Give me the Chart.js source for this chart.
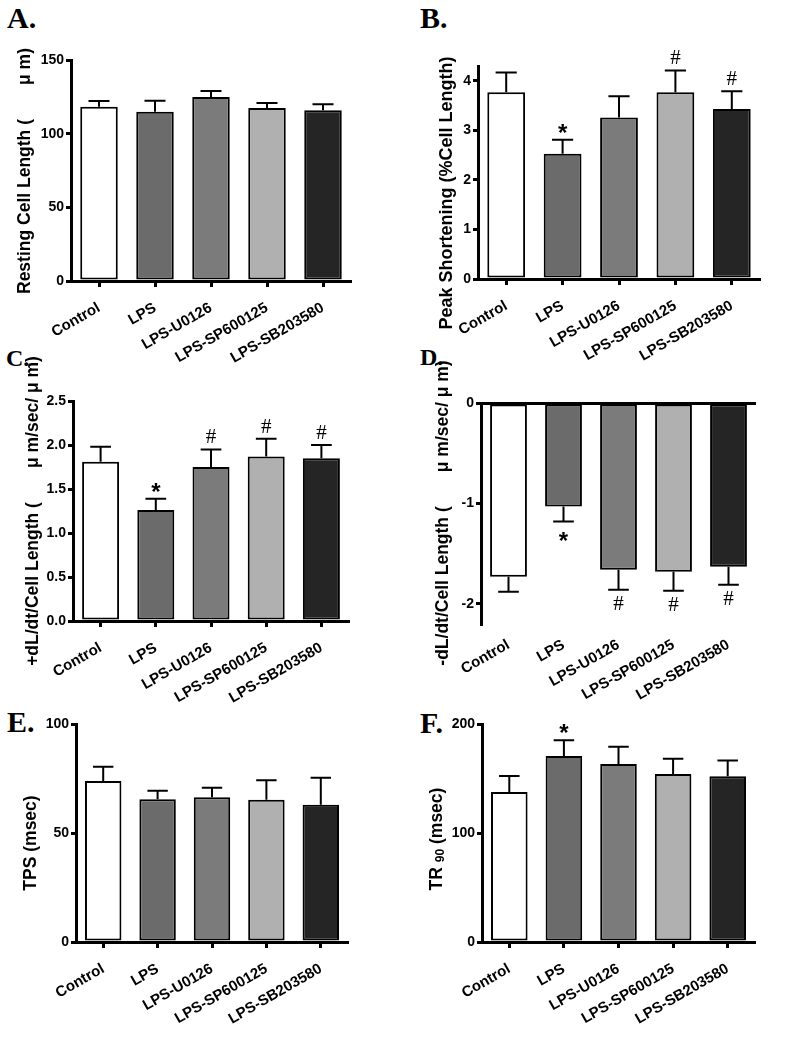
<!DOCTYPE html>
<html>
<head>
<meta charset="utf-8">
<script src="https://cdn.jsdelivr.net/npm/chart.js@4"></script>
<style>
  body { margin: 0; background: #fff; }
  #fig { position: relative; width: 786px; height: 1050px; overflow: hidden; font-family: 'Liberation Sans', Arial, sans-serif; }
  #fig canvas { position: absolute; }
  .letter { position: absolute; font-family: 'Liberation Serif', 'Times New Roman', serif; font-weight: bold; line-height: 1; }
  .ytitle { position: absolute; transform: translate(-50%, -50%) rotate(-90deg); white-space: pre; font-weight: bold; font-size: 17.5px; line-height: 1; }
  .ytitle sub { font-size: 12px; vertical-align: -2px; }
</style>
</head>
<body>
<div id="fig">
  <div class="letter" style="left:7px;top:3px;font-size:30px">A.</div>
  <div class="letter" style="left:420px;top:3px;font-size:30px">B.</div>
  <div class="letter" style="left:6px;top:346px;font-size:24px">C.</div>
  <div class="letter" style="left:420px;top:345px;font-size:24px">D.</div>
  <div class="letter" style="left:7px;top:707px;font-size:30px">E.</div>
  <div class="letter" style="left:420px;top:708px;font-size:30px">F.</div>

  <canvas id="chartA" width="393" height="365" style="left:0;top:0"></canvas>
  <canvas id="chartB" width="393" height="365" style="left:393px;top:0"></canvas>
  <canvas id="chartC" width="393" height="370" style="left:0;top:345px"></canvas>
  <canvas id="chartD" width="393" height="370" style="left:393px;top:345px"></canvas>
  <canvas id="chartE" width="393" height="350" style="left:0;top:700px"></canvas>
  <canvas id="chartF" width="393" height="350" style="left:393px;top:700px"></canvas>

  <div class="ytitle" style="left:25px;top:171px">Resting Cell Length (       μ m)</div>
  <div class="ytitle" style="left:446px;top:193px;font-size:18px">Peak Shortening (%Cell Length)</div>
  <div class="ytitle" style="left:33px;top:511px">+dL/dt/Cell Length (       μ m/sec/ μ m)</div>
  <div class="ytitle" style="left:443px;top:513px">-dL/dt/Cell Length (       μ m/sec/ μ m)</div>
  <div class="ytitle" style="left:31px;top:843px">TPS (msec)</div>
  <div class="ytitle" style="left:437px;top:839px">TR <sub>90</sub> (msec)</div>
</div>
<script>
// groups and bar fills (white -> dark)
const groups = ['Control', 'LPS', 'LPS-U0126', 'LPS-SP600125', 'LPS-SB203580'];
const barColors = ['#ffffff', '#6b6b6b', '#7b7b7b', '#b0b0b0', '#252525'];

// A. resting cell length (um), mean and SEM
const restingLength = [118.3, 114.9, 124.9, 117.4, 115.9];
const restingLengthErr = [3.9, 7.5, 4.1, 3.4, 4.0];
const restingLengthTicks = [0, 50, 100, 150];

// B. peak shortening (% cell length)
const peakShortening = [3.77, 2.53, 3.26, 3.77, 3.43];
const peakShorteningErr = [0.40, 0.28, 0.43, 0.44, 0.36];
const peakShorteningMarks = ['', '*', '', '#', '#'];
const peakShorteningTicks = [0, 1, 2, 3, 4];

// C. +dL/dt
const plusDLdt = [1.81, 1.26, 1.75, 1.87, 1.85];
const plusDLdtErr = [0.17, 0.13, 0.20, 0.20, 0.15];
const plusDLdtMarks = ['', '*', '#', '#', '#'];
const plusDLdtTicks = [0, 0.5, 1.0, 1.5, 2.0, 2.5];

// D. -dL/dt
const minusDLdt = [-1.73, -1.03, -1.66, -1.68, -1.63];
const minusDLdtErr = [0.15, 0.15, 0.20, 0.19, 0.18];
const minusDLdtMarks = ['', '*', '#', '#', '#'];
const minusDLdtTicks = [-2, -1, 0];

// E. TPS (msec)
const tps = [73.9, 65.5, 66.4, 65.3, 63.0];
const tpsErr = [6.5, 3.9, 4.3, 8.9, 12.3];
const tpsTicks = [0, 50, 100];

// F. TR90 (msec)
const tr90 = [137.7, 170.7, 163.4, 154.2, 152.1];
const tr90Err = [14.7, 14.4, 15.8, 14.0, 14.3];
const tr90Marks = ['', '*', '', '', ''];
const tr90Ticks = [0, 100, 200];

Chart.defaults.font.family = "'Liberation Sans', Arial, sans-serif";
Chart.defaults.color = '#000';

// one-sided SEM bars plus significance marks
const errorBars = {
  id: 'errorBars',
  afterDatasetsDraw(chart) {
    const ctx = chart.ctx;
    const y = chart.scales.y;
    const ds = chart.data.datasets[0];
    const meta = chart.getDatasetMeta(0);
    ctx.save();
    ctx.strokeStyle = '#000';
    ctx.fillStyle = '#000';
    ctx.lineWidth = 2;
    meta.data.forEach((bar, i) => {
      const v = ds.data[i];
      const e = ds.errors[i];
      const up = v >= 0;
      const tip = up ? v + e : v - e;
      const y0 = y.getPixelForValue(v);
      const y1 = y.getPixelForValue(tip);
      const half = bar.width * 0.28;
      ctx.beginPath();
      ctx.moveTo(bar.x, y0);
      ctx.lineTo(bar.x, y1);
      ctx.moveTo(bar.x - half, y1);
      ctx.lineTo(bar.x + half, y1);
      ctx.stroke();
      const m = ds.marks ? ds.marks[i] : '';
      if (!m) return;
      const cy = up ? y1 - 13 : y1 + 13;
      ctx.textAlign = 'center';
      ctx.textBaseline = 'alphabetic';
      if (m === '*') {
        ctx.font = "bold 24px 'Liberation Sans', Arial, sans-serif";
        ctx.fillText(m, bar.x, cy + 14);
      } else {
        ctx.font = "21px 'Liberation Serif', 'Times New Roman', serif";
        ctx.fillText(m, bar.x, cy + 7);
      }
    });
    ctx.restore();
  }
};

function makePanel(id, values, errors, marks, yScale, box, hangDown) {
  const y = {
    min: yScale.min,
    max: yScale.max,
    afterFit: s => { s.width = box.yWidth; },
    afterBuildTicks: s => { s.ticks = yScale.ticks.map(v => ({ value: v })); },
    border: { display: true, color: '#000', width: 3 },
    grid: {
      drawOnChartArea: !!hangDown,
      color: hangDown ? (c => (c.tick && c.tick.value === 0 ? '#000' : 'rgba(0,0,0,0)')) : '#000',
      lineWidth: 3,
      tickColor: '#000',
      tickWidth: 3,
      tickLength: 5
    },
    ticks: {
      padding: 2,
      font: { size: 14, weight: 'bold' },
      callback: yScale.fmt || (v => v)
    }
  };
  const x = {
    afterFit: s => { s.height = box.xHeight; },
    border: { display: !hangDown, color: '#000', width: 3 },
    grid: {
      display: !hangDown,
      drawTicks: !hangDown,
      drawOnChartArea: false,
      offset: false,
      color: '#000',
      tickColor: '#000',
      tickWidth: 3,
      tickLength: 6
    },
    ticks: {
      autoSkip: false,
      minRotation: 30,
      maxRotation: 30,
      padding: 12,
      font: { size: 15, weight: 'bold' }
    }
  };
  return new Chart(document.getElementById(id), {
    type: 'bar',
    data: {
      labels: groups,
      datasets: [{
        data: values,
        errors: errors,
        marks: marks,
        backgroundColor: barColors,
        borderColor: '#000',
        borderWidth: 2,
        borderSkipped: false,
        barPercentage: 0.67,
        categoryPercentage: 1
      }]
    },
    options: {
      responsive: false,
      animation: false,
      layout: {
        autoPadding: false,
        padding: { left: 0, top: box.top, right: box.right, bottom: 0 }
      },
      plugins: { legend: { display: false }, tooltip: { enabled: false } },
      scales: { x, y }
    },
    plugins: [errorBars]
  });
}

makePanel('chartA', restingLength, restingLengthErr, null,
  { min: 0, max: 150, ticks: restingLengthTicks },
  { yWidth: 71, top: 60, right: 42, xHeight: 84 });

makePanel('chartB', peakShortening, peakShorteningErr, peakShorteningMarks,
  { min: 0, max: 4.3, ticks: peakShorteningTicks },
  { yWidth: 85, top: 66, right: 26, xHeight: 86 });

makePanel('chartC', plusDLdt, plusDLdtErr, plusDLdtMarks,
  { min: 0, max: 2.5, ticks: plusDLdtTicks, fmt: v => v.toFixed(1) },
  { yWidth: 73, top: 56, right: 44, xHeight: 94 });

makePanel('chartD', minusDLdt, minusDLdtErr, minusDLdtMarks,
  { min: -2.2, max: 0, ticks: minusDLdtTicks },
  { yWidth: 88, top: 58, right: 30, xHeight: 91 }, true);

makePanel('chartE', tps, tpsErr, null,
  { min: 0, max: 100, ticks: tpsTicks },
  { yWidth: 76, top: 24, right: 45, xHeight: 108 });

makePanel('chartF', tr90, tr90Err, tr90Marks,
  { min: 0, max: 200, ticks: tr90Ticks },
  { yWidth: 89, top: 24, right: 31, xHeight: 108 });
</script>
</body>
</html>
